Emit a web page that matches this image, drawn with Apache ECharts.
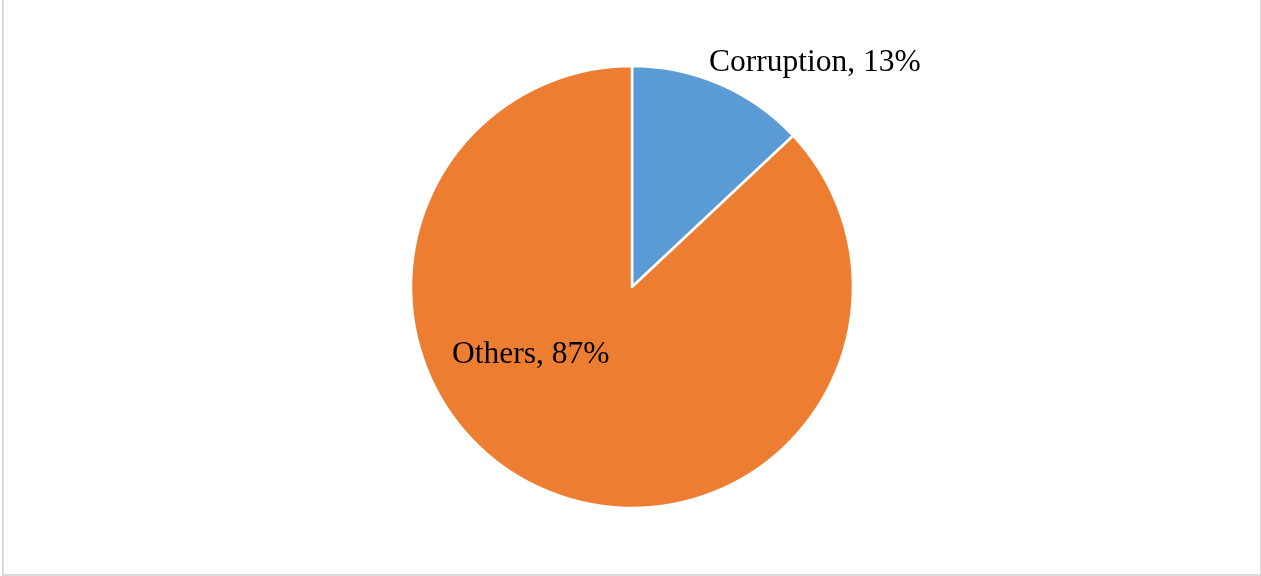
<!DOCTYPE html>
<html>
<head>
<meta charset="utf-8">
<script src="https://cdn.jsdelivr.net/npm/echarts@6/dist/echarts.min.js"></script>
<style>
html,body{margin:0;padding:0;background:#fff;overflow:hidden;}
#frame{position:absolute;left:2px;top:-2px;width:1256px;height:574px;border:2px solid #d9d9d9;box-sizing:content-box;}
#chart{position:absolute;left:0;top:0;width:1261px;height:576px;}
</style>
</head>
<body>
<div id="frame"></div>
<div id="chart"></div>
<script>
const categories = ['Corruption', 'Others'];
const values = [13, 87];
const colors = ['#5B9BD5', '#ED7D31'];

const chart = echarts.init(document.getElementById('chart'), null, {renderer: 'canvas'});
const labelPos = {
  'Corruption': {x: 709, y: 63},
  'Others': {x: 452, y: 355}
};
chart.setOption({
  animation: false,
  series: [{
    type: 'pie',
    center: [632, 287],
    radius: [0, 221],
    startAngle: 90,
    clockwise: true,
    data: categories.map((c, i) => ({name: c, value: values[i], itemStyle: {color: colors[i]}})),
    itemStyle: {borderColor: '#ffffff', borderWidth: 2.5},
    label: {
      show: true,
      formatter: p => p.name + ', ' + p.value + '%',
      fontFamily: '"Liberation Serif", "Times New Roman", serif',
      fontSize: 31.5,
      color: '#000000'
    },
    labelLine: {show: false},
    labelLayout: function (params) {
      const name = categories[params.dataIndex];
      const p = labelPos[name];
      return {x: p.x, y: p.y, align: 'left', verticalAlign: 'middle'};
    }
  }]
});
</script>
</body>
</html>
